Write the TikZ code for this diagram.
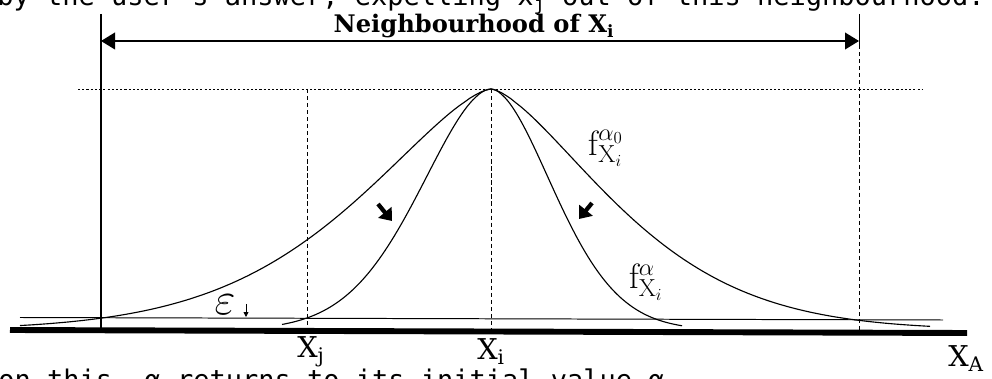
\documentclass[tikz,border=0pt]{standalone}
\usepackage{fontspec}
\usepackage{tikz}
\usetikzlibrary{arrows.meta, positioning}
\newfontfamily\slabfont{DejaVu Serif}
\newfontfamily\typefont{DejaVu Sans Mono}

\begin{document}
\begin{tikzpicture}[
    x=0.025cm, y=-0.025cm,
    txt/.style={font=\typefont\fontsize{19.2}{24}\selectfont, inner sep=0pt},
    lbl/.style={font=\slabfont\bfseries\fontsize{17.2}{20}\selectfont, inner sep=0pt},
    axlbl/.style={font=\slabfont\fontsize{20.4}{24}\selectfont, inner sep=0pt},
    flbl/.style={font=\fontsize{25}{30}\selectfont, inner sep=0pt},
    curve/.style={line width=0.8pt, line join=round},
    guide/.style={line width=0.5pt, densely dashed},
    dimarr/.style={{Triangle[length=0.35cm,width=0.42cm]}-{Triangle[length=0.35cm,width=0.42cm]}, line width=0.9pt},
    bigarr/.style={-{Triangle[length=0.28cm,width=0.42cm]}, line width=3pt},
    smallarr/.style={-{Triangle[length=0.12cm,width=0.12cm]}, line width=0.6pt}
]
\useasboundingbox (0,0) rectangle (992,379);

% cut text lines above and below
\node[txt, anchor=base west] (topline) at (-3,6) {by the user's answer, expelling x\textsubscript{j} out of this neighbourhood.};
\node[txt, anchor=base west] (botline) at (-2,390) {on this, α returns to its initial value α};

% neighbourhood
\coordinate (lt) at (101,14);
\coordinate (lb) at (101,330);
\coordinate (rt) at (859,14);
\coordinate (rm) at (859,45);
\coordinate (rb) at (859,330);
\coordinate (nl) at (101,41);
\coordinate (nr) at (859,41);
\draw[line width=1.6pt] (lt) -- (lb);
\draw[line width=0.5pt] (rt) -- (rm);
\draw[guide] (rm) -- (rb);
\draw[dimarr] (nl) -- (nr);
\node[lbl, anchor=base] (nbh) at (474,33) {Neighbourhood of X\textsubscript{i}};

% level of the peak
\coordinate (dl) at (78,89);
\coordinate (dr) at (923,89);
\draw[line width=0.6pt, dash pattern=on 1.5pt off 1.5pt] (dl) -- (dr);

% axis
\coordinate (el) at (20,317.5);
\coordinate (er) at (943,320);
\coordinate (al) at (10,330);
\coordinate (ar) at (967,333);
\draw[line width=0.7pt] (el) -- (er);
\draw[line width=4.2pt] (al) -- (ar);

% guides
\coordinate (jt) at (307,89);
\coordinate (jb) at (307,331);
\coordinate (it) at (491,89);
\coordinate (ib) at (491,333);
\draw[guide] (jt) -- (jb);
\draw[guide] (it) -- (ib);

% curves
\draw[curve] plot[domain=20:490.99, samples=90] (\x, {330-241*exp(-pow((491-\x)/186,1.49))});
\draw[curve] plot[domain=491.01:930, samples=90] (\x, {330-241*exp(-pow((\x-491)/168,1.49))});
\draw[curve] plot[domain=282:490.99, samples=70] (\x, {330-241*exp(-pow((491-\x)/100,1.8))});
\draw[curve] plot[domain=491.01:682, samples=70] (\x, {330-241*exp(-pow((\x-491)/88,1.8))});

% labels
\node[flbl] (fzero) at (606,148) {$\mathrm{f}^{\alpha_0}_{\mathrm{X}_i}$};
\node[flbl] (fnow) at (646,282) {$\mathrm{f}^{\alpha}_{\mathrm{X}_i}$};
\node[axlbl, anchor=base west] (xj) at (297,358) {X\textsubscript{j}};
\node[axlbl, anchor=base west] (xi) at (477,360) {X\textsubscript{i}};
\node[axlbl, anchor=base west] (xa) at (948,367) {X\textsubscript{A}};
\node[flbl] (eps) at (225,305) {\scalebox{1.3}{$\varepsilon$}};

% shrinking
\coordinate (sl) at (378,204);
\coordinate (sle) at (392,221);
\coordinate (sr) at (592,203);
\coordinate (sre) at (579,219);
\draw[bigarr] (sl) -- (sle);
\draw[bigarr] (sr) -- (sre);
\coordinate (et) at (246,304);
\coordinate (eb) at (246,317);
\draw[smallarr] (et) -- (eb);
\end{tikzpicture}
\end{document}
